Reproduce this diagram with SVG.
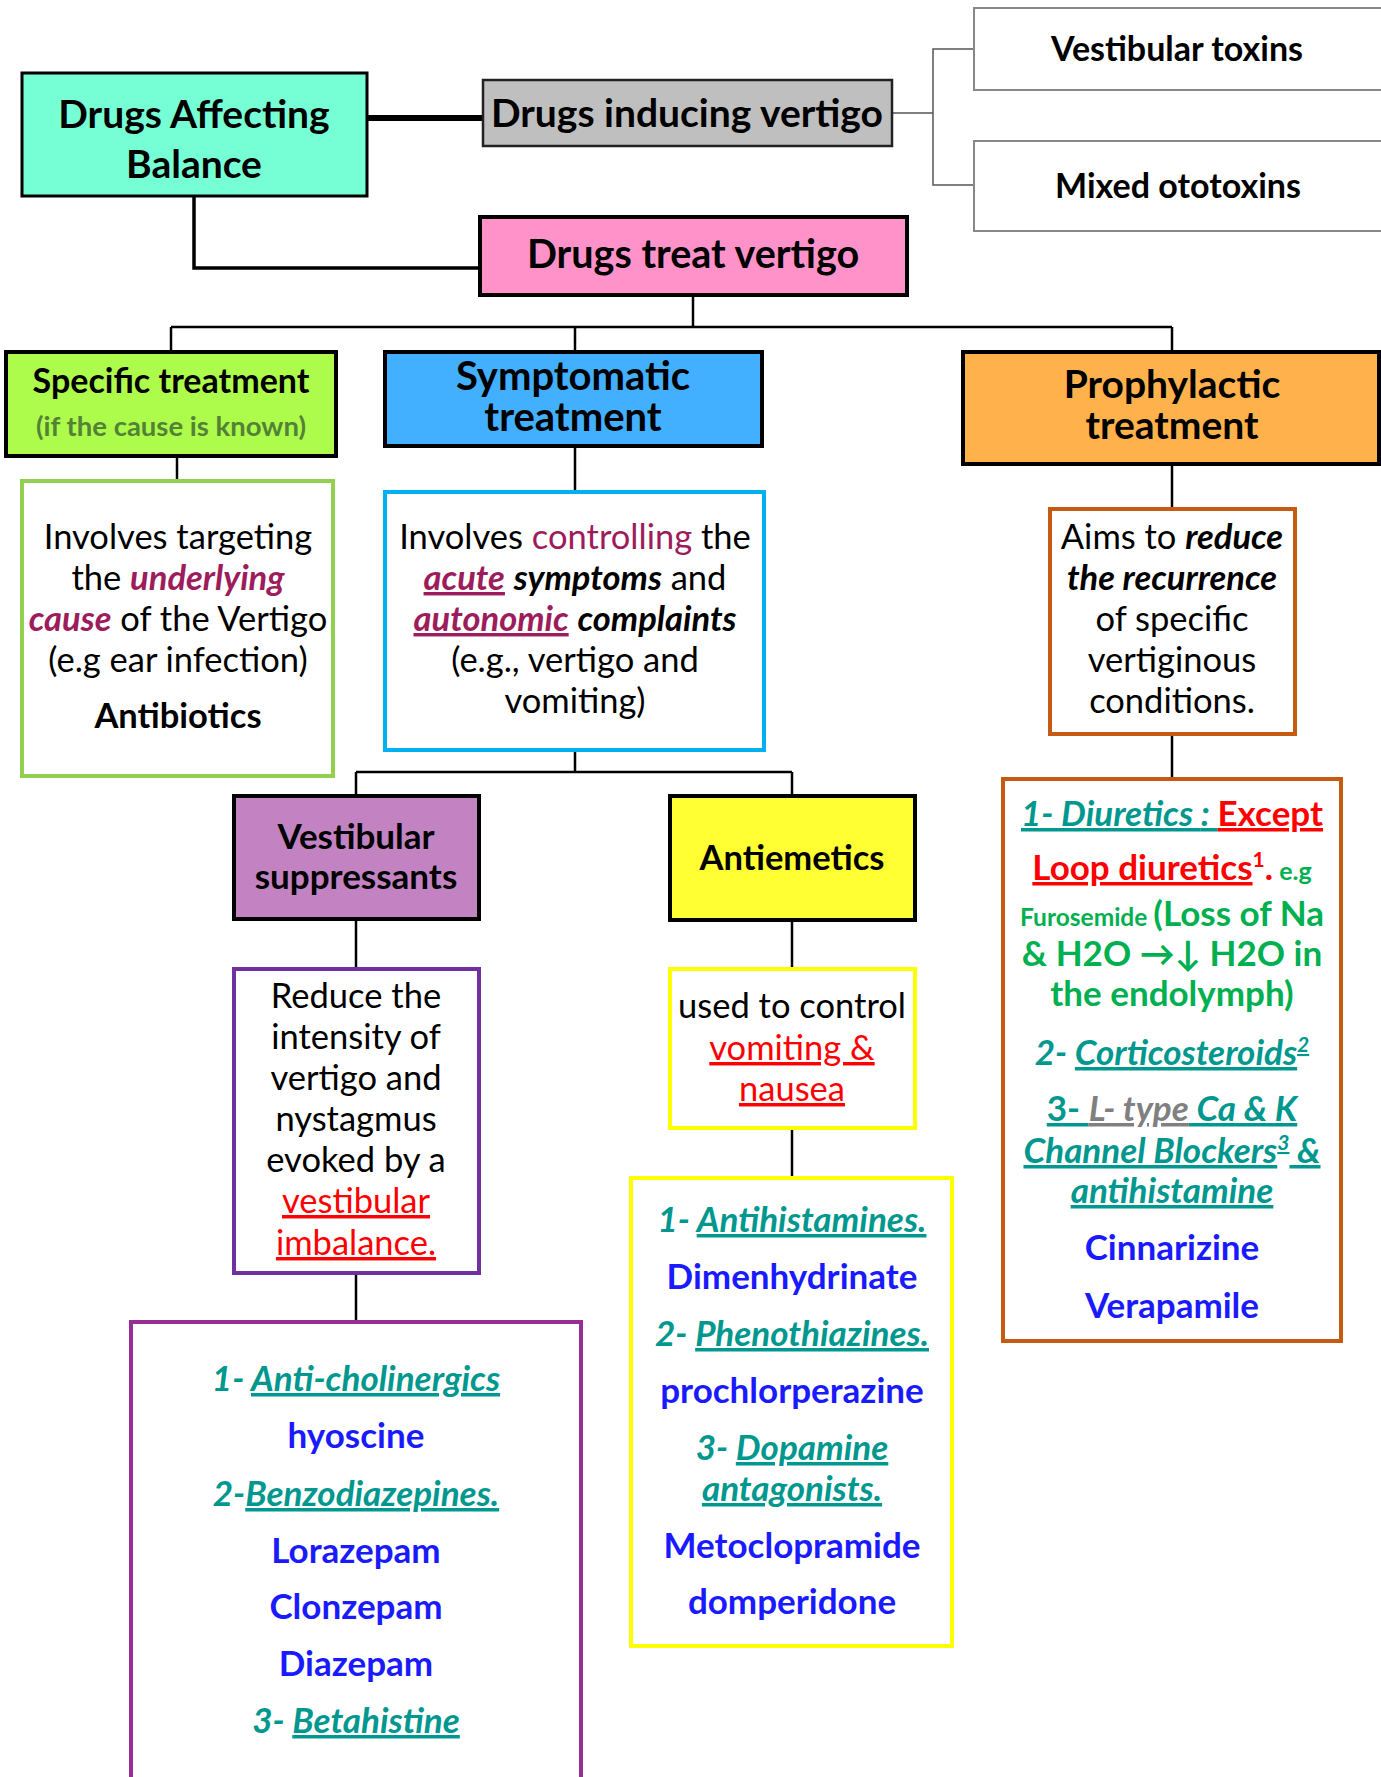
<svg xmlns="http://www.w3.org/2000/svg" width="1381" height="1777" viewBox="0 0 1381 1777">
<style>
text{font-family:Lato,"Noto Sans","DejaVu Sans",sans-serif;text-anchor:middle;fill:#000}
.h{font-weight:bold}
.b{font-size:34.5px}
.l{font-size:35px}
.bi{font-weight:bold;font-style:italic}
.u{text-decoration:underline}
.m{fill:#9C1C5C}
.r{fill:#FF0000}
.t{fill:#00978F;font-weight:bold;font-style:italic}
.bl{fill:#1A1AFF;font-weight:bold}
.g{fill:#00B050;font-weight:bold}
.box{stroke:#000;stroke-width:4}
.con{stroke:#000;stroke-width:2.5;fill:none}
</style>
<g id="connectors">
<line x1="367" y1="118" x2="483" y2="118" stroke="#000" stroke-width="6"/>
<polyline points="892,113 933,113" fill="none" stroke="#555" stroke-width="1.5"/>
<polyline points="974,49 933,49 933,185 974,185" fill="none" stroke="#555" stroke-width="1.5"/>
<polyline points="194,196 194,268 480,268" fill="none" stroke="#000" stroke-width="3.5"/>
<line class="con" x1="693" y1="295" x2="693" y2="327"/>
<line class="con" x1="171" y1="327" x2="1172" y2="327"/>
<line class="con" x1="171" y1="327" x2="171" y2="352"/>
<line class="con" x1="575" y1="327" x2="575" y2="352"/>
<line class="con" x1="1172" y1="327" x2="1172" y2="352"/>
<line class="con" x1="177" y1="456" x2="177" y2="481"/>
<line class="con" x1="575" y1="446" x2="575" y2="492"/>
<line class="con" x1="1172" y1="464" x2="1172" y2="509"/>
<line class="con" x1="575" y1="750" x2="575" y2="772"/>
<line class="con" x1="356" y1="772" x2="792" y2="772"/>
<line class="con" x1="356" y1="772" x2="356" y2="796"/>
<line class="con" x1="792" y1="772" x2="792" y2="796"/>
<line class="con" x1="356" y1="919" x2="356" y2="969"/>
<line class="con" x1="356" y1="1273" x2="356" y2="1322"/>
<line class="con" x1="792" y1="920" x2="792" y2="969"/>
<line class="con" x1="792" y1="1128" x2="792" y2="1178"/>
<line class="con" x1="1172" y1="734" x2="1172" y2="779"/>
</g>
<g id="balance">
<rect x="22" y="73" width="345" height="123" fill="#76FFD4" stroke="#000" stroke-width="3"/>
<text class="h" x="194" y="128" font-size="39">Drugs Affecting</text>
<text class="h" x="194" y="178" font-size="39">Balance</text>
</g>
<g id="inducing">
<rect x="483" y="80" width="409" height="66" fill="#BFBFBF" stroke="#222" stroke-width="2.5"/>
<text class="h" x="687" y="127" font-size="39">Drugs inducing vertigo</text>
</g>
<g id="vestibular-toxins">
<rect x="974" y="8" width="420" height="82" fill="#fff" stroke="#888" stroke-width="2"/>
<text class="h" x="1177" y="61" font-size="34">Vestibular toxins</text>
</g>
<g id="mixed-ototoxins">
<rect x="974" y="141" width="420" height="90" fill="#fff" stroke="#888" stroke-width="2"/>
<text class="h" x="1178" y="198" font-size="34">Mixed ototoxins</text>
</g>
<g id="treat">
<rect x="480" y="217" width="427" height="78" fill="#FF93C9" class="box"/>
<text class="h" x="693" y="268" font-size="39.5">Drugs treat vertigo</text>
</g>
<g id="specific">
<rect x="6" y="352" width="330" height="104" fill="#ADFC4C" class="box"/>
<text class="h" x="171" y="393" font-size="34">Specific treatment</text>
<text class="h" x="171" y="436" font-size="27.5" style="fill:#548235">(if the cause is known)</text>
</g>
<g id="symptomatic">
<rect x="385" y="352" width="377" height="94" fill="#42AFFF" class="box"/>
<text class="h" x="573" y="390" font-size="40">Symptomatic</text>
<text class="h" x="573" y="431" font-size="40">treatment</text>
</g>
<g id="prophylactic">
<rect x="963" y="352" width="416" height="112" fill="#FFB24C" class="box"/>
<text class="h" x="1172" y="398" font-size="39">Prophylactic</text>
<text class="h" x="1172" y="439" font-size="39">treatment</text>
</g>
<g id="specific-desc">
<rect x="22" y="481" width="311" height="295" fill="#fff" stroke="#92D050" stroke-width="4"/>
<text class="b" x="178" y="549">Involves targeting</text>
<text class="b" x="178" y="590">the <tspan class="bi m">underlying</tspan></text>
<text class="b" x="178" y="631"><tspan class="bi m">cause</tspan> of the Vertigo</text>
<text class="b" x="178" y="672">(e.g ear infection)</text>
<text class="b h" x="178" y="728">Antibiotics</text>
</g>
<g id="symptomatic-desc">
<rect x="385" y="492" width="379" height="258" fill="#fff" stroke="#00B0F0" stroke-width="4"/>
<text class="b" x="575" y="549">Involves <tspan class="m">controlling</tspan> the</text>
<text class="b" x="575" y="590"><tspan class="bi m u">acute</tspan> <tspan class="bi">symptoms</tspan> and</text>
<text class="b" x="575" y="631"><tspan class="bi m u">autonomic</tspan> <tspan class="bi">complaints</tspan></text>
<text class="b" x="575" y="672">(e.g., vertigo and</text>
<text class="b" x="575" y="713">vomiting)</text>
</g>
<g id="prophylactic-desc">
<rect x="1050" y="509" width="245" height="225" fill="#fff" stroke="#C55A11" stroke-width="4"/>
<text class="b" x="1172" y="549">Aims to <tspan class="bi">reduce</tspan></text>
<text class="b bi" x="1172" y="590">the recurrence</text>
<text class="b" x="1172" y="631">of specific</text>
<text class="b" x="1172" y="672">vertiginous</text>
<text class="b" x="1172" y="713">conditions.</text>
</g>
<g id="vestibular-suppressants">
<rect x="234" y="796" width="245" height="123" fill="#C383C3" class="box"/>
<text class="h" x="356" y="849" font-size="35">Vestibular</text>
<text class="h" x="356" y="889" font-size="35">suppressants</text>
</g>
<g id="vestibular-desc">
<rect x="234" y="969" width="245" height="304" fill="#fff" stroke="#7030A0" stroke-width="4"/>
<text class="b" x="356" y="1008">Reduce the</text>
<text class="b" x="356" y="1049">intensity of</text>
<text class="b" x="356" y="1090">vertigo and</text>
<text class="b" x="356" y="1131">nystagmus</text>
<text class="b" x="356" y="1172">evoked by a</text>
<text class="b r u" x="356" y="1213">vestibular</text>
<text class="b r u" x="356" y="1255">imbalance.</text>
</g>
<g id="vestibular-drugs">
<rect x="131" y="1322" width="450" height="480" fill="#fff" stroke="#992D96" stroke-width="4"/>
<text class="l t" x="356" y="1391">1- <tspan class="u">Anti-cholinergics</tspan></text>
<text class="l bl" x="356" y="1448">hyoscine</text>
<text class="l t" x="356" y="1506">2-<tspan class="u">Benzodiazepines.</tspan></text>
<text class="l bl" x="356" y="1563">Lorazepam</text>
<text class="l bl" x="356" y="1619">Clonzepam</text>
<text class="l bl" x="356" y="1676">Diazepam</text>
<text class="l t" x="356" y="1733">3- <tspan class="u">Betahistine</tspan></text>
</g>
<g id="antiemetics">
<rect x="670" y="796" width="245" height="124" fill="#FFFF33" class="box"/>
<text class="h" x="792" y="870" font-size="34.5">Antiemetics</text>
</g>
<g id="antiemetics-desc">
<rect x="670" y="969" width="245" height="159" fill="#fff" stroke="#FFFF00" stroke-width="4"/>
<text class="b" x="792" y="1018">used to control</text>
<text class="b r u" x="792" y="1060">vomiting &amp;</text>
<text class="b r u" x="792" y="1101">nausea</text>
</g>
<g id="antiemetics-drugs">
<rect x="631" y="1178" width="321" height="468" fill="#fff" stroke="#FFFF00" stroke-width="4"/>
<text class="l t" x="792" y="1232">1- <tspan class="u">Antihistamines.</tspan></text>
<text class="l bl" x="792" y="1289">Dimenhydrinate</text>
<text class="l t" x="792" y="1346">2- <tspan class="u">Phenothiazines.</tspan></text>
<text class="l bl" x="792" y="1403">prochlorperazine</text>
<text class="l t" x="792" y="1460">3- <tspan class="u">Dopamine</tspan></text>
<text class="l t u" x="792" y="1501">antagonists.</text>
<text class="l bl" x="792" y="1558">Metoclopramide</text>
<text class="l bl" x="792" y="1614">domperidone</text>
</g>
<g id="prophylactic-drugs">
<rect x="1003" y="779" width="338" height="562" fill="#fff" stroke="#C55A11" stroke-width="4"/>
<text class="l" x="1172" y="826"><tspan class="t u">1- Diuretics </tspan><tspan class="t u">: </tspan><tspan class="r h u">Except</tspan></text>
<text class="l" x="1172" y="880"><tspan class="r h u">Loop diuretics</tspan><tspan class="r h" dy="-13" font-size="21">1</tspan><tspan class="r h" dy="13">.</tspan><tspan class="g" font-size="25"> e.g</tspan></text>
<text class="l" x="1172" y="926"><tspan class="g" font-size="24.5">Furosemide </tspan><tspan class="g">(Loss of Na</tspan></text>
<text class="l g" x="1172" y="966">&amp; H2O →↓ H2O in</text>
<text class="l g" x="1172" y="1006">the endolymph)</text>
<text class="l t" x="1172" y="1065">2- <tspan class="u">Corticosteroids</tspan><tspan class="u" dy="-13" font-size="21">2</tspan></text>
<text class="l" x="1172" y="1121"><tspan class="u" style="fill:#00978F;font-weight:bold">3- </tspan><tspan class="u" style="fill:#808080;font-weight:bold;font-style:italic">L- type</tspan><tspan class="t u"> Ca &amp; K</tspan></text>
<text class="l t u" x="1172" y="1163">Channel Blockers<tspan dy="-13" font-size="21">3</tspan><tspan dy="13"> &amp;</tspan></text>
<text class="l t u" x="1172" y="1203">antihistamine</text>
<text class="l bl" x="1172" y="1260">Cinnarizine</text>
<text class="l bl" x="1172" y="1318">Verapamile</text>
</g>
</svg>
